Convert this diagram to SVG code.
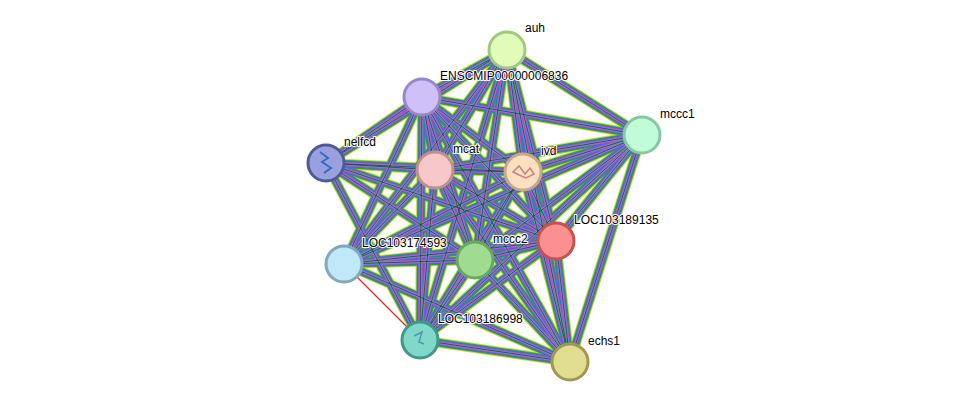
<svg xmlns="http://www.w3.org/2000/svg" xmlns:xlink="http://www.w3.org/1999/xlink" width="975" height="408" viewBox="0 0 975 408">
<style>
text{font-family:"Liberation Sans",Arial,sans-serif;font-size:12px;fill:#000;paint-order:stroke;stroke:#fff;stroke-width:2px}
.n{stroke-width:3}
</style>
<defs>
<g id="E">
<line x1="326" y1="163" x2="422" y2="97"/><line x1="326" y1="163" x2="435" y2="170"/><line x1="326" y1="163" x2="523" y2="172"/><line x1="326" y1="163" x2="475" y2="260"/><line x1="326" y1="163" x2="420" y2="340"/><line x1="326" y1="163" x2="507" y2="50"/><line x1="326" y1="163" x2="556" y2="241"/>
<line x1="507" y1="50" x2="422" y2="97"/><line x1="507" y1="50" x2="642" y2="135"/><line x1="507" y1="50" x2="435" y2="170"/><line x1="507" y1="50" x2="523" y2="172"/><line x1="507" y1="50" x2="556" y2="241"/><line x1="507" y1="50" x2="475" y2="260"/><line x1="507" y1="50" x2="344" y2="264"/><line x1="507" y1="50" x2="420" y2="340"/><line x1="507" y1="50" x2="570" y2="362"/>
<line x1="422" y1="97" x2="642" y2="135"/><line x1="422" y1="97" x2="435" y2="170"/><line x1="422" y1="97" x2="523" y2="172"/><line x1="422" y1="97" x2="556" y2="241"/><line x1="422" y1="97" x2="475" y2="260"/><line x1="422" y1="97" x2="344" y2="264"/><line x1="422" y1="97" x2="420" y2="340"/><line x1="422" y1="97" x2="570" y2="362"/>
<line x1="642" y1="135" x2="435" y2="170"/><line x1="642" y1="135" x2="523" y2="172"/><line x1="642" y1="135" x2="556" y2="241"/><line x1="642" y1="135" x2="475" y2="260"/><line x1="642" y1="135" x2="420" y2="340"/><line x1="642" y1="135" x2="570" y2="362"/><line x1="642" y1="135" x2="344" y2="264"/>
<line x1="435" y1="170" x2="523" y2="172"/><line x1="435" y1="170" x2="556" y2="241"/><line x1="435" y1="170" x2="475" y2="260"/><line x1="435" y1="170" x2="344" y2="264"/><line x1="435" y1="170" x2="420" y2="340"/><line x1="435" y1="170" x2="570" y2="362"/>
<line x1="523" y1="172" x2="556" y2="241"/><line x1="523" y1="172" x2="475" y2="260"/><line x1="523" y1="172" x2="344" y2="264"/><line x1="523" y1="172" x2="420" y2="340"/><line x1="523" y1="172" x2="570" y2="362"/>
<line x1="556" y1="241" x2="475" y2="260"/><line x1="556" y1="241" x2="344" y2="264"/><line x1="556" y1="241" x2="420" y2="340"/><line x1="556" y1="241" x2="570" y2="362"/>
<line x1="475" y1="260" x2="344" y2="264"/><line x1="475" y1="260" x2="420" y2="340"/><line x1="475" y1="260" x2="570" y2="362"/>
<line x1="344" y1="264" x2="570" y2="362"/><line x1="420" y1="340" x2="570" y2="362"/>
</g>
</defs>
<g id="connectors">
<use xlink:href="#E" stroke="#c8dc30" stroke-width="10"/>
<use xlink:href="#E" stroke="#30a830" stroke-width="8"/>
<use xlink:href="#E" stroke="#3c6ce0" stroke-width="6"/>
<use xlink:href="#E" stroke="#d040d0" stroke-width="4"/>
<use xlink:href="#E" stroke="#40b8b8" stroke-width="2"/>
<use xlink:href="#E" stroke="#333" stroke-width="0.8"/>
<line x1="344" y1="264" x2="420" y2="340" stroke="#f22" stroke-width="1.2"/>
</g>
<g id="auh"><circle class="n" cx="507" cy="50" r="18" fill="#e0fcb8" stroke="#a0c880"/><text x="525" y="32">auh</text></g>
<g id="ENSCMIP00000006836"><circle class="n" cx="422" cy="97" r="18" fill="#d0c0fa" stroke="#9888c8"/><text x="440" y="80">ENSCMIP00000006836</text></g>
<g id="mccc1"><circle class="n" cx="642" cy="135" r="18" fill="#c0fcd8" stroke="#88c8a0"/><text x="660" y="118">mccc1</text></g>
<g id="nelfcd"><circle class="n" cx="326" cy="163" r="18" fill="#99a0e0" stroke="#505a98"/><path d="M320 152l8 6-6 4 9 6-7 5" fill="none" stroke="#3a6ac0" stroke-width="2"/><text x="344" y="146">nelfcd</text></g>
<g id="mcat"><circle class="n" cx="435" cy="170" r="18" fill="#f8c8c8" stroke="#c09090"/><text x="453" y="153">mcat</text></g>
<g id="ivd"><circle class="n" cx="523" cy="172" r="18" fill="#fde0c0" stroke="#c8a888"/><path d="M513 172l6-6 6 8 5-6 4 6-8 4-7-3z" fill="none" stroke="#d08080" stroke-width="1.5"/><text x="541" y="155">ivd</text></g>
<g id="LOC103189135"><circle class="n" cx="556" cy="241" r="18" fill="#fc9090" stroke="#c85050"/><text x="574" y="224">LOC103189135</text></g>
<g id="LOC103174593"><circle class="n" cx="344" cy="264" r="18" fill="#c0e8f8" stroke="#80a8c0"/><text x="362" y="247">LOC103174593</text></g>
<g id="mccc2"><circle class="n" cx="475" cy="260" r="18" fill="#a0dc90" stroke="#68a860"/><text x="493" y="243">mccc2</text></g>
<g id="LOC103186998"><circle class="n" cx="420" cy="340" r="18" fill="#80d8c8" stroke="#409888"/><path d="M414 336l8-4-3 10 5 2" fill="none" stroke="#5a90b0" stroke-width="1.5"/><text x="438" y="323">LOC103186998</text></g>
<g id="echs1"><circle class="n" cx="570" cy="362" r="18" fill="#e0dc90" stroke="#a09850"/><text x="588" y="345">echs1</text></g>
</svg>
